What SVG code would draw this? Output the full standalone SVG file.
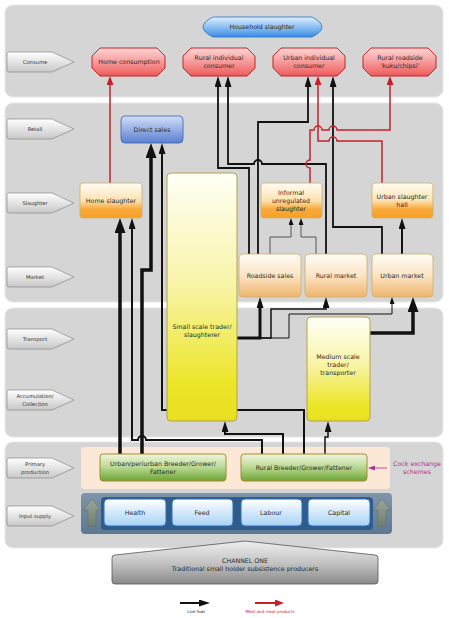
<svg xmlns="http://www.w3.org/2000/svg" width="449" height="618" viewBox="0 0 449 618">
<defs>
<style>
.t{font-family:"DejaVu Sans",sans-serif;font-size:6.3px;fill:#2a2a2a;text-anchor:middle}
.lt{font-family:"DejaVu Sans",sans-serif;font-size:5.2px;fill:#333;text-anchor:middle}
.panel{fill:#d5d5d5;stroke:#e6e6e6;stroke-width:1}
.lab{fill:url(#gLab);stroke:#8a8a8a;stroke-width:0.7}
.oct{fill:url(#gRed);stroke:#c0272d;stroke-width:1}
.orng{fill:url(#gOr);stroke:#c8b070;stroke-width:0.8}
.mkt{fill:url(#gMk);stroke:#c8b070;stroke-width:0.8}
.yel{fill:url(#gYe);stroke:#b8a050;stroke-width:1}
.grn{fill:url(#gGr);stroke:#a88a30;stroke-width:1}
.inp{fill:url(#gIn);stroke:#2f6db5;stroke-width:1}
.k{fill:none;stroke:#111;stroke-linejoin:miter}
.r{fill:none;stroke:#c8202a;stroke-width:1.5}
.g{fill:none;stroke:#555;stroke-width:1}
</style>
<linearGradient id="gLab" x1="0" y1="0" x2="0" y2="1"><stop offset="0" stop-color="#ffffff"/><stop offset="1" stop-color="#c8c8c8"/></linearGradient>
<linearGradient id="gRed" x1="0" y1="0" x2="0" y2="1"><stop offset="0" stop-color="#fdd5d5"/><stop offset="0.5" stop-color="#f79a9a"/><stop offset="1" stop-color="#ee5a5a"/></linearGradient>
<linearGradient id="gHH" x1="0" y1="0" x2="0" y2="1"><stop offset="0" stop-color="#dff0ff"/><stop offset="1" stop-color="#3a8ee6"/></linearGradient>
<linearGradient id="gDS" x1="0" y1="0" x2="0" y2="1"><stop offset="0" stop-color="#d2def8"/><stop offset="1" stop-color="#5a80d0"/></linearGradient>
<linearGradient id="gOr" x1="0" y1="0" x2="0" y2="1"><stop offset="0" stop-color="#fffdf6"/><stop offset="0.5" stop-color="#fde2b0"/><stop offset="0.75" stop-color="#f9a93a"/><stop offset="1" stop-color="#f7a024"/></linearGradient>
<linearGradient id="gMk" x1="0" y1="0" x2="0" y2="1"><stop offset="0" stop-color="#fffcf4"/><stop offset="0.5" stop-color="#fbe4c4"/><stop offset="1" stop-color="#efb56c"/></linearGradient>
<linearGradient id="gYe" x1="0" y1="0" x2="0" y2="1"><stop offset="0" stop-color="#fffff6"/><stop offset="0.45" stop-color="#f8f4a8"/><stop offset="0.85" stop-color="#ece628"/><stop offset="1" stop-color="#e8e020"/></linearGradient>
<linearGradient id="gGr" x1="0" y1="0" x2="0" y2="1"><stop offset="0" stop-color="#eef7e0"/><stop offset="0.5" stop-color="#b8d890"/><stop offset="1" stop-color="#6ca534"/></linearGradient>
<linearGradient id="gIn" x1="0" y1="0" x2="0" y2="1"><stop offset="0" stop-color="#ffffff"/><stop offset="1" stop-color="#a6d2f5"/></linearGradient>
<linearGradient id="gBand" x1="0" y1="0" x2="0" y2="1"><stop offset="0" stop-color="#7f95aa"/><stop offset="1" stop-color="#5d7893"/></linearGradient>
<linearGradient id="gCh" x1="0" y1="0" x2="0" y2="1"><stop offset="0" stop-color="#eeeeee"/><stop offset="0.5" stop-color="#c4c4c4"/><stop offset="1" stop-color="#8a8a8a"/></linearGradient>
<linearGradient id="gUp" x1="0" y1="0" x2="0" y2="1"><stop offset="0" stop-color="#9aa59a"/><stop offset="1" stop-color="#6f7f6f"/></linearGradient>
<marker id="mL" viewBox="0 0 15 11" markerWidth="15" markerHeight="11" refX="8" refY="5.5" orient="auto" markerUnits="userSpaceOnUse" preserveAspectRatio="none"><path d="M0,0 L15,5.5 L0,11 z" fill="#111"/></marker>
<marker id="mM" viewBox="0 0 11 7" markerWidth="11" markerHeight="7" refX="6" refY="3.5" orient="auto" markerUnits="userSpaceOnUse" preserveAspectRatio="none"><path d="M0,0 L11,3.5 L0,7 z" fill="#111"/></marker>
<marker id="mS" viewBox="0 0 7 5" markerWidth="7" markerHeight="5" refX="4" refY="2.5" orient="auto" markerUnits="userSpaceOnUse" preserveAspectRatio="none"><path d="M0,0 L7,2.5 L0,5 z" fill="#111"/></marker>
<marker id="mR" viewBox="0 0 9 7" markerWidth="9" markerHeight="7" refX="5" refY="3.5" orient="auto" markerUnits="userSpaceOnUse" preserveAspectRatio="none"><path d="M0,0 L9,3.5 L0,7 z" fill="#c8202a"/></marker>
<marker id="mP" viewBox="0 0 7 5" markerWidth="7" markerHeight="5" refX="4" refY="2.5" orient="auto" markerUnits="userSpaceOnUse" preserveAspectRatio="none"><path d="M0,0 L7,2.5 L0,5 z" fill="#b0308a"/></marker>
</defs>

<rect width="449" height="618" fill="#ffffff"/>

<g id="panels">
<rect class="panel" x="5" y="5" width="438" height="92" rx="8"/>
<rect class="panel" x="5" y="103" width="438" height="199" rx="8"/>
<rect class="panel" x="5" y="308" width="438" height="129" rx="8"/>
<rect class="panel" x="5" y="442" width="438" height="106" rx="8"/>
</g>

<g id="stage-labels">
<g id="lab-consume"><path class="lab" d="M9,52 H52 L74,62 L52,72 H9 Q7,72 7,70 V54 Q7,52 9,52 Z"/><text class="lt" x="35" y="64">Consume</text></g>
<g id="lab-retail"><path class="lab" d="M9,119 H52 L74,129 L52,139 H9 Q7,139 7,137 V121 Q7,119 9,119 Z"/><text class="lt" x="35" y="131">Retail</text></g>
<g id="lab-slaughter"><path class="lab" d="M9,193 H52 L74,203 L52,213 H9 Q7,213 7,211 V195 Q7,193 9,193 Z"/><text class="lt" x="35" y="205">Slaughter</text></g>
<g id="lab-market"><path class="lab" d="M9,267 H52 L74,277 L52,287 H9 Q7,287 7,285 V269 Q7,267 9,267 Z"/><text class="lt" x="35" y="279">Market</text></g>
<g id="lab-transport"><path class="lab" d="M9,329 H52 L74,339 L52,349 H9 Q7,349 7,347 V331 Q7,329 9,329 Z"/><text class="lt" x="35" y="341">Transport</text></g>
<g id="lab-accum"><path class="lab" d="M9,390 H52 L74,400 L52,410 H9 Q7,410 7,408 V392 Q7,390 9,390 Z"/><text class="lt" x="35" y="398">Accumulation/</text><text class="lt" x="35" y="406">Collection</text></g>
<g id="lab-primary"><path class="lab" d="M9,458 H52 L74,468 L52,478 H9 Q7,478 7,476 V460 Q7,458 9,458 Z"/><text class="lt" x="35" y="466">Primary</text><text class="lt" x="35" y="474">production</text></g>
<g id="lab-input"><path class="lab" d="M9,506 H52 L74,516 L52,526 H9 Q7,526 7,524 V508 Q7,506 9,506 Z"/><text class="lt" x="35" y="518">Input supply</text></g>
</g>

<g id="bands">
<rect x="81" y="447" width="309" height="42" rx="3" fill="#fbe8d6"/>
<rect x="81" y="493" width="311" height="41" rx="4" fill="url(#gBand)"/>
<rect x="101" y="497" width="272" height="33" rx="4" fill="#2e5d8d"/>
</g>

<g id="connectors">
<!-- live fowl (black) -->
<path class="k" stroke-width="3.5" d="M120,454 V225" marker-end="url(#mL)"/>
<path class="k" stroke-width="2" d="M262,454 V440 H146 A4,4 0 0 0 138,440 H132 V223" marker-end="url(#mM)"/>
<path class="k" stroke-width="3.5" d="M142,454 V270 H151 V150" marker-end="url(#mL)"/>
<path class="k" stroke-width="2" d="M304,454 V410 H162 V148" marker-end="url(#mM)"/>
<path class="k" stroke-width="2" d="M283,454 V434 H225 V426" marker-end="url(#mM)"/>
<path class="k" stroke-width="1.5" d="M325,454 V437 H328 V426" marker-end="url(#mM)"/>
<path class="k" stroke-width="3" d="M237,338 H260 V302" marker-end="url(#mM)"/>
<path class="k" stroke-width="1.5" d="M237,338 H271 V309 H326 V302" marker-end="url(#mM)"/>
<path class="k" stroke-width="1" d="M237,338 H289 V314 H392 V300" marker-end="url(#mS)"/>
<path class="k" stroke-width="3.5" d="M370,333 H413 V304" marker-end="url(#mL)"/>
<path class="k" stroke-width="2" d="M402,254 V223" marker-end="url(#mM)"/>
<path class="g" d="M270,254 V237 H291 V221" marker-end="url(#mS)"/>
<path class="g" d="M316,254 V237 H301 V221" marker-end="url(#mS)"/>
<path class="k" stroke-width="1.8" d="M249,254 V168 H218 V81" marker-end="url(#mM)"/>
<path class="k" stroke-width="1.8" d="M326,254 V164 H262 A4,4 0 0 0 254,164 H228 V81" marker-end="url(#mM)"/>
<path class="k" stroke-width="1.8" d="M258,254 V122 H308 V81" marker-end="url(#mM)"/>
<path class="k" stroke-width="1.8" d="M382,254 V227 H333 V81" marker-end="url(#mM)"/>
<!-- meat and meat products (red) -->
<path class="r" d="M110,183 V80" marker-end="url(#mR)"/>
<path class="r" d="M310,183 V168 A4,4 0 0 1 310,160 V130 H314 A4,4 0 0 1 322,130 H329 A4,4 0 0 1 337,130 H390 V80" marker-end="url(#mR)"/>
<path class="r" d="M382,183 V141 H337 A4,4 0 0 0 329,141 H318 V80" marker-end="url(#mR)"/>
<!-- cock exchange -->
<path fill="none" stroke="#b0308a" stroke-width="0.8" d="M387,468 H371" marker-end="url(#mP)"/>
</g>

<g id="n-household"><path d="M213,17 H312 Q322,22 322,27 Q322,32 312,37 H213 Q203,32 203,27 Q203,22 213,17 Z" fill="url(#gHH)" stroke="#2a6fbf" stroke-width="0.8"/><text class="t" x="262" y="29">Household slaughter</text></g>

<g id="n-home-consumption"><polygon class="oct" points="100,48 157,48 165,56 165,68 157,76 100,76 92,68 92,56"/><text class="t" x="129" y="64">Home consumption</text></g>
<g id="n-rural-consumer"><polygon class="oct" points="191,48 247,48 255,56 255,68 247,76 191,76 183,68 183,56"/><text class="t" x="219" y="60">Rural individual</text><text class="t" x="219" y="68">consumer</text></g>
<g id="n-urban-consumer"><polygon class="oct" points="281,48 337,48 345,56 345,68 337,76 281,76 273,68 273,56"/><text class="t" x="309" y="60">Urban individual</text><text class="t" x="309" y="68">consumer</text></g>
<g id="n-roadside-consumer"><polygon class="oct" points="371,48 428,48 436,56 436,68 428,76 371,76 363,68 363,56"/><text class="t" x="400" y="60">Rural roadside</text><text class="t" x="400" y="68">'kuku/chipsi'</text></g>

<g id="n-direct-sales"><rect x="121" y="116" width="62" height="27" rx="4" fill="url(#gDS)" stroke="#3a5fb0" stroke-width="0.8"/><text class="t" x="152" y="132">Direct sales</text></g>

<g id="n-home-slaughter"><rect class="orng" x="80" y="183" width="62" height="35" rx="3"/><text class="t" x="111" y="203">Home slaughter</text></g>
<g id="n-informal"><rect class="orng" x="261" y="183" width="61" height="35" rx="3"/><text class="t" x="291" y="195">Informal</text><text class="t" x="291" y="203">unregulated</text><text class="t" x="291" y="211">slaughter</text></g>
<g id="n-urban-hall"><rect class="orng" x="372" y="183" width="61" height="35" rx="3"/><text class="t" x="402" y="199">Urban slaughter</text><text class="t" x="402" y="207">hall</text></g>

<g id="n-small-trader"><rect class="yel" x="167" y="173" width="70" height="248" rx="4"/><text class="t" x="202" y="329">Small scale trader/</text><text class="t" x="202" y="337">slaughterer</text></g>

<g id="n-roadside-sales"><rect class="mkt" x="239" y="254" width="62" height="43" rx="4"/><text class="t" x="270" y="278">Roadside sales</text></g>
<g id="n-rural-market"><rect class="mkt" x="305" y="254" width="62" height="43" rx="4"/><text class="t" x="336" y="278">Rural market</text></g>
<g id="n-urban-market"><rect class="mkt" x="372" y="254" width="61" height="43" rx="4"/><text class="t" x="402" y="278">Urban market</text></g>

<g id="n-medium-trader"><rect class="yel" x="307" y="317" width="63" height="104" rx="4"/><text class="t" x="338" y="359">Medium scale</text><text class="t" x="338" y="367">trader/</text><text class="t" x="338" y="375">transporter</text></g>

<g id="n-urban-breeder"><rect class="grn" x="100" y="454" width="126" height="27" rx="3"/><text class="t" x="163" y="466">Urban/periurban Breeder/Grower/</text><text class="t" x="163" y="474">Fattener</text></g>
<g id="n-rural-breeder"><rect class="grn" x="241" y="454" width="126" height="27" rx="3"/><text class="t" x="304" y="470">Rural Breeder/Grower/Fattener</text></g>

<g id="n-cock-exchange"><text class="t" x="417" y="466" style="fill:#b0308a">Cock exchange</text><text class="t" x="417" y="474" style="fill:#b0308a">schemes</text></g>

<g id="n-health"><rect class="inp" x="104" y="499" width="62" height="27" rx="4"/><text class="t" x="135" y="515">Health</text></g>
<g id="n-feed"><rect class="inp" x="172" y="499" width="61" height="27" rx="4"/><text class="t" x="202" y="515">Feed</text></g>
<g id="n-labour"><rect class="inp" x="241" y="499" width="61" height="27" rx="4"/><text class="t" x="271" y="515">Labour</text></g>
<g id="n-capital"><rect class="inp" x="308" y="499" width="62" height="27" rx="4"/><text class="t" x="339" y="515">Capital</text></g>
<g id="input-arrows">
<polygon points="88,526 96,526 96,510 101,510 92,499 83,510 88,510" fill="url(#gUp)" stroke="#5d6b5d" stroke-width="0.5"/>
<polygon points="378,526 386,526 386,510 391,510 382,499 373,510 378,510" fill="url(#gUp)" stroke="#5d6b5d" stroke-width="0.5"/>
</g>

<g id="n-channel-one"><path d="M115,555 L245,541 L375,555 Q378,555 378,558 V581 Q378,584 375,584 H115 Q112,584 112,581 V558 Q112,555 115,555 Z" fill="url(#gCh)" stroke="#555" stroke-width="0.8"/><text class="t" x="245" y="563">CHANNEL ONE</text><text class="t" x="245" y="571">Traditional small holder subsistence producers</text></g>

<g id="legend">
<path d="M180,603 H205" stroke="#111" stroke-width="2" fill="none" marker-end="url(#mM)"/>
<text x="196" y="613" style="font-family:'DejaVu Sans',sans-serif;font-size:4px;fill:#222;text-anchor:middle">Live fowl</text>
<path d="M255,603 H280" stroke="#c8202a" stroke-width="2" fill="none" marker-end="url(#mR)"/>
<text x="270" y="613" style="font-family:'DejaVu Sans',sans-serif;font-size:4px;fill:#c8202a;text-anchor:middle">Meat and meat products</text>
</g>
</svg>
